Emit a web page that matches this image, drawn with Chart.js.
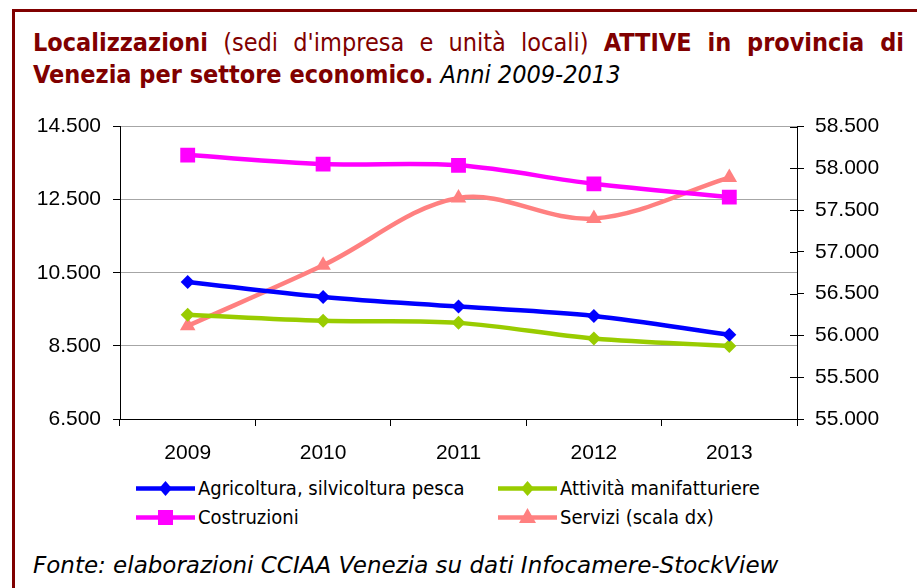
<!DOCTYPE html>
<html>
<head>
<meta charset="utf-8">
<script src="https://cdn.jsdelivr.net/npm/chart.js@4"></script>
<style>
  html, body { margin: 0; padding: 0; background: #fff; width: 917px; height: 588px; overflow: hidden; }
  #frame { position: absolute; left: 12px; top: 9px; width: 1000px; height: 1000px; border: 3px solid #800000; }
  #title { position: absolute; left: 33px; top: 27px; width: 871px; font-family: "DejaVu Sans Condensed", "DejaVu Sans", sans-serif; font-size: 25px; line-height: 31.6px; color: #800000; }
  #title .l1 { display: block; text-align: justify; text-align-last: justify; white-space: nowrap; }
  #title .l2 { display: block; text-align: left; white-space: nowrap; }
  #title b { font-weight: bold; }
  #title i { color: #000; }
  #wrap { position: absolute; left: 0; top: 102px; width: 917px; height: 363px; }
  #legend { position: absolute; left: 0; top: 474px; width: 917px; height: 60px; font-family: "DejaVu Sans Condensed", "DejaVu Sans", sans-serif; font-size: 20px; }
  .item { position: absolute; height: 28px; display: flex; align-items: center; white-space: nowrap; }
  .item svg { margin-right: 3px; }
  #source { position: absolute; left: 33px; top: 554px; line-height: 1; font-family: "DejaVu Sans", sans-serif; font-style: italic; font-size: 23px; color: #000; white-space: nowrap; }
</style>
</head>
<body>
<div id="frame"></div>
<div id="title"><span class="l1"><b>Localizzazioni</b> (sedi d'impresa e unità locali) <b>ATTIVE in provincia di</b></span><span class="l2"><b>Venezia per settore economico.</b> <i>Anni 2009-2013</i></span></div>
<div id="wrap"><canvas id="chart"></canvas></div>
<div id="legend"></div>
<div id="source">Fonte: elaborazioni CCIAA Venezia su dati Infocamere-StockView</div>
<script>
// data
const years = ['2009', '2010', '2011', '2012', '2013'];
const agricoltura = [10250, 9840, 9575, 9320, 8805];
const manifatturiere = [9350, 9185, 9130, 8700, 8500];
const costruzioni = [13720, 13475, 13440, 12935, 12570];
const servizi = [56115, 56840, 57645, 57400, 57890];

const leftTicks = [6500, 14500, 2000];   // min, max, step
const rightTicks = [55000, 58500, 500];

const names = ['Agricoltura, silvicoltura pesca', 'Attività manifatturiere', 'Costruzioni', 'Servizi (scala dx)'];
const colors = ['#0000ff', '#99cc00', '#ff00ff', '#ff8080'];
const markers = ['rectRot', 'rectRot', 'rect', 'triangle'];
const markerSize = [7, 7, 10.5, 9];

function fmt(v) {
    return String(v).replace(/\B(?=(\d{3})+(?!\d))/g, '.');
}

const series = [agricoltura, manifatturiere, costruzioni, servizi];
const datasets = series.map((values, i) => ({
    label: names[i],
    data: values,
    yAxisID: i === 3 ? 'y2' : 'y',
    borderColor: colors[i],
    backgroundColor: colors[i],
    borderWidth: 4.5,
    tension: 0.35,
    pointStyle: markers[i],
    pointRadius: markerSize[i],
    pointHoverRadius: markerSize[i],
    pointBorderWidth: 0
}));

const tickFont = { family: 'Liberation Sans, Arial, sans-serif', size: 21 };

// right axis ticks in Excel cross the axis line
const crossTicks = {
    id: 'crossTicks',
    afterDraw(chart) {
        const s = chart.scales.y2;
        const c = chart.ctx;
        c.save();
        c.strokeStyle = '#000';
        c.lineWidth = 1;
        s.ticks.forEach(t => {
            const y = Math.round(s.getPixelForValue(t.value)) + 0.5;
            c.beginPath();
            c.moveTo(s.left - 7, y);
            c.lineTo(s.left, y);
            c.stroke();
        });
        c.restore();
    }
};

new Chart(document.getElementById('chart'), {
    type: 'line',
    data: { labels: years, datasets: datasets },
    plugins: [crossTicks],
    options: {
        responsive: true,
        maintainAspectRatio: false,
        animation: false,
        layout: { padding: { top: 15, left: 0, right: 0, bottom: 0 } },
        plugins: { legend: { display: false }, tooltip: { enabled: false } },
        scales: {
            x: {
                offset: true,
                border: { color: '#000', width: 1 },
                grid: { drawOnChartArea: false, tickLength: 7, color: '#000', offset: true },
                ticks: { color: '#000', font: tickFont, padding: 15 },
                afterFit: s => { s.height = 46; }
            },
            y: {
                position: 'left',
                min: leftTicks[0],
                max: leftTicks[1],
                border: { color: '#000', width: 1 },
                grid: { color: '#a6a6a6', lineWidth: 1, tickLength: 7, tickColor: '#000' },
                ticks: { stepSize: leftTicks[2], color: '#000', font: tickFont, padding: 12, callback: v => fmt(v) },
                afterFit: s => { s.width = 120; }
            },
            y2: {
                position: 'right',
                min: rightTicks[0],
                max: rightTicks[1],
                border: { color: '#000', width: 1 },
                grid: { drawOnChartArea: false, tickLength: 7, tickColor: '#000' },
                ticks: { stepSize: rightTicks[2], color: '#000', font: tickFont, padding: 11, callback: v => fmt(v) },
                afterFit: s => { s.width = 120; }
            }
        }
    }
});

// legend: two columns, line with marker
const legendPos = [[136, 0], [498, 0], [136, 29], [498, 29]];
const legend = document.getElementById('legend');
names.forEach((n, i) => {
    const d = document.createElement('div');
    d.className = 'item';
    d.style.left = legendPos[i][0] + 'px';
    d.style.top = legendPos[i][1] + 'px';
    let m;
    if (markers[i] === 'rect') {
        m = `<rect x="22" y="7" width="15" height="15" fill="${colors[i]}"/>`;
    } else if (markers[i] === 'triangle') {
        m = `<polygon points="29.5,5 38,20 21,20" fill="${colors[i]}"/>`;
    } else {
        m = `<polygon points="29.5,7 36,14.5 29.5,22 23,14.5" fill="${colors[i]}"/>`;
    }
    d.innerHTML = `<svg width="59" height="29"><line x1="0" y1="14.5" x2="59" y2="14.5" stroke="${colors[i]}" stroke-width="4.5"/>${m}</svg><span>${n}</span>`;
    legend.appendChild(d);
});
</script>
</body>
</html>
